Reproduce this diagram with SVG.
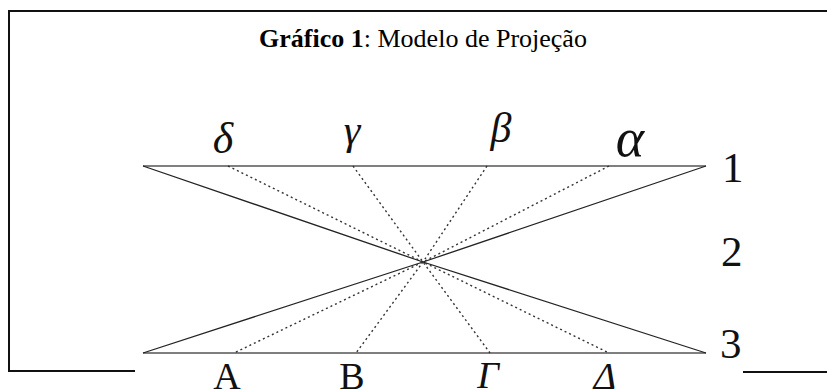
<svg xmlns="http://www.w3.org/2000/svg" width="827" height="390" viewBox="0 0 827 390">
<style>
.frame{stroke:#111;stroke-width:2;fill:none}
.level{stroke:#555;stroke-width:1.6;fill:none}
.solid{stroke:#222;stroke-width:1.3;fill:none}
.dot{stroke:#333;stroke-width:1.4;fill:none;stroke-dasharray:2 3}
.gk{font-family:"Liberation Serif","DejaVu Serif",serif;font-style:italic;fill:#111;text-anchor:middle}
.num{font-family:"Liberation Serif","DejaVu Serif",serif;font-size:43px;fill:#111}
.lat{font-family:"Liberation Serif","DejaVu Serif",serif;font-size:38px;fill:#111;text-anchor:middle}
.title{font-family:"Liberation Serif","Times New Roman",serif;font-size:26px;fill:#000;text-anchor:middle}
</style>
<rect width="827" height="390" fill="#fff"/>
<g id="frame">
<polyline class="frame" points="827,11 9,11 9,371 135,371"/>
<line class="frame" x1="743" y1="372" x2="827" y2="372"/>
</g>
<text id="title" class="title" x="423" y="47"><tspan font-weight="bold">Gráfico 1</tspan>: Modelo de Projeção</text>
<g id="connectors">
<line class="level" x1="143" y1="166" x2="706" y2="166"/>
<line class="level" x1="143" y1="353" x2="706" y2="353"/>
<polyline class="solid" points="143,166 423,262 706,353"/>
<polyline class="solid" points="706,166 423,262 143,353"/>
<polyline class="dot" points="228,166 423,262 609,353"/>
<polyline class="dot" points="353,166 423,262 490,353"/>
<polyline class="dot" points="487,166 423,262 356,353"/>
<polyline class="dot" points="609,166 423,262 234,353"/>
</g>
<g id="top-labels">
<text class="gk" x="223" y="153" font-size="44">δ</text>
<text class="gk" x="352" y="144" font-size="42">γ</text>
<text class="gk" x="501" y="142" font-size="42">β</text>
<text class="gk" x="630" y="156" font-size="54">α</text>
</g>
<g id="levels">
<text class="num" x="722" y="182">1</text>
<text class="num" x="721" y="266">2</text>
<text class="num" x="720" y="358">3</text>
</g>
<g id="bottom-labels">
<text class="lat" x="227" y="389">A</text>
<text class="lat" x="352" y="389">B</text>
<text class="lat" x="488" y="388" font-style="italic">Γ</text>
<text class="lat" x="605" y="389" font-style="italic">Δ</text>
</g>
</svg>
